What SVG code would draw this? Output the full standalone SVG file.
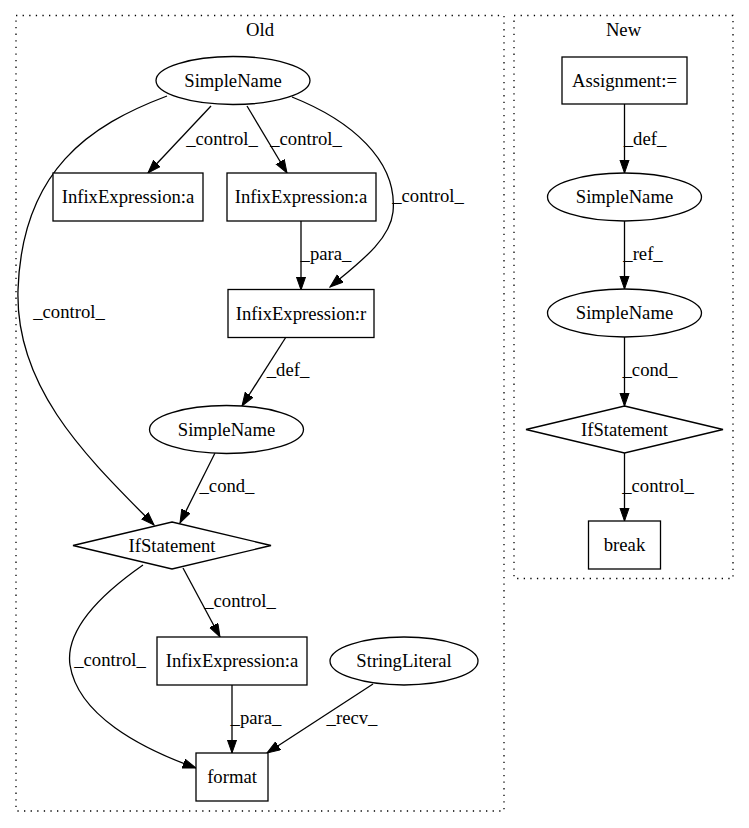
<svg xmlns="http://www.w3.org/2000/svg" width="749" height="828" viewBox="0 0 749 828" font-family="'Liberation Serif', 'DejaVu Serif', serif">
<style>
text{font-family:'Liberation Serif','DejaVu Serif',serif;font-size:18.67px;fill:#000;text-anchor:middle}
.n{fill:#fff;stroke:#000;stroke-width:1.3}
.c{fill:none;stroke:#000;stroke-width:1.3;stroke-dasharray:1.3,5.3}
.e{fill:none;stroke:#000;stroke-width:1.3;marker-end:url(#ah)}
</style>
<defs>
<marker id="ah" markerUnits="userSpaceOnUse" markerWidth="15" markerHeight="11" refX="13.3" refY="5" orient="auto">
<path d="M0,0.33 L13.3,5 L0,9.67 z" fill="#000" stroke="#000" stroke-width="1"/>
</marker>
</defs>
<rect width="749" height="828" fill="#fff"/>
<g id="cluster_old">
<rect class="c" x="16" y="15.5" width="488" height="795.5"/>
<text x="260" y="36">Old</text>
</g>
<g id="cluster_new">
<rect class="c" x="514" y="15.5" width="219" height="563"/>
<text x="623.5" y="36">New</text>
</g>
<g id="edges">
<path class="e" d="M211,106 L148,173"/>
<text x="222" y="145">_control_</text>
<path class="e" d="M247,106 L287,173"/>
<text x="306" y="145">_control_</text>
<path class="e" d="M292,97 C350,120 398,160 393,212 C390,240 360,262 330,287"/>
<text x="428" y="202">_control_</text>
<path class="e" d="M301,221 L301,290"/>
<text x="326" y="260">_para_</text>
<path class="e" d="M167,96 C90,125 22,170 18,290 C15,390 90,460 154,525"/>
<text x="69" y="318">_control_</text>
<path class="e" d="M286,337 L242,406"/>
<text x="288" y="376">_def_</text>
<path class="e" d="M215,453 L180,523"/>
<text x="227" y="492">_cond_</text>
<path class="e" d="M183,568 L220,637"/>
<text x="240" y="607">_control_</text>
<path class="e" d="M143,565 C100,595 65,630 70,665 C78,715 140,748 196,768"/>
<text x="110" y="666">_control_</text>
<path class="e" d="M232,685 L232,753"/>
<text x="256" y="724">_para_</text>
<path class="e" d="M373,684 L267,753"/>
<text x="352" y="724">_recv_</text>
<path class="e" d="M624.5,104 L624.5,173"/>
<text x="645" y="145">_def_</text>
<path class="e" d="M624.5,221 L624.5,289"/>
<text x="643" y="260">_ref_</text>
<path class="e" d="M624.5,337 L624.5,406"/>
<text x="650" y="376">_cond_</text>
<path class="e" d="M624.5,453 L624.5,521"/>
<text x="658" y="492">_control_</text>
</g>
<g id="old_simplename_top">
<ellipse class="n" cx="233" cy="80.5" rx="77" ry="24"/>
<text x="233" y="86.5">SimpleName</text>
</g>
<g id="old_infix_a_left">
<rect class="n" x="53" y="173" width="150" height="48"/>
<text x="128" y="203">InfixExpression:a</text>
</g>
<g id="old_infix_a_mid">
<rect class="n" x="227" y="173" width="149" height="48"/>
<text x="301" y="203">InfixExpression:a</text>
</g>
<g id="old_infix_r">
<rect class="n" x="228" y="289.5" width="146" height="48"/>
<text x="301" y="319.5">InfixExpression:r</text>
</g>
<g id="old_simplename_mid">
<ellipse class="n" cx="226.5" cy="429.5" rx="77" ry="24"/>
<text x="226.5" y="435.5">SimpleName</text>
</g>
<g id="old_ifstatement">
<polygon class="n" points="172,522 271,545.5 172,569 73,545.5"/>
<text x="172" y="551.5">IfStatement</text>
</g>
<g id="old_infix_a_bottom">
<rect class="n" x="157" y="637" width="150" height="48"/>
<text x="232" y="667">InfixExpression:a</text>
</g>
<g id="old_stringliteral">
<ellipse class="n" cx="404" cy="661" rx="74" ry="24"/>
<text x="404" y="667">StringLiteral</text>
</g>
<g id="old_format">
<rect class="n" x="196" y="753" width="72" height="48"/>
<text x="232" y="783">format</text>
</g>
<g id="new_assignment">
<rect class="n" x="562" y="57" width="125" height="47"/>
<text x="624.5" y="86.5">Assignment:=</text>
</g>
<g id="new_simplename_1">
<ellipse class="n" cx="624.5" cy="197" rx="77" ry="24"/>
<text x="624.5" y="203">SimpleName</text>
</g>
<g id="new_simplename_2">
<ellipse class="n" cx="624.5" cy="313" rx="77" ry="24"/>
<text x="624.5" y="319">SimpleName</text>
</g>
<g id="new_ifstatement">
<polygon class="n" points="624.5,406 723,429.5 624.5,453 526,429.5"/>
<text x="624.5" y="435.5">IfStatement</text>
</g>
<g id="new_break">
<rect class="n" x="588.5" y="521" width="72" height="48"/>
<text x="624.5" y="551">break</text>
</g>
</svg>
